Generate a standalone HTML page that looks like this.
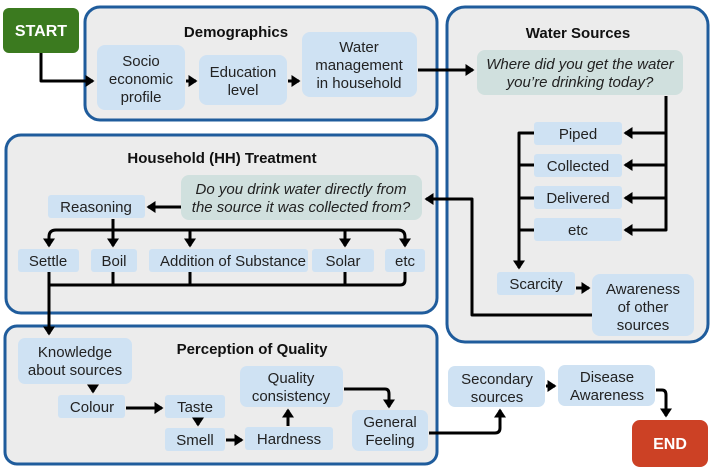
<!DOCTYPE html>
<html><head><meta charset="utf-8"><style>
html,body{margin:0;padding:0;background:#fff;}
svg{display:block;font-family:"Liberation Sans",Arial,sans-serif;}
.p{fill:#ececec;stroke:#1f5c9c;stroke-width:3;}
.b{fill:#cfe2f3;}
.q{fill:#d0e0de;}
.t{font-size:15px;fill:#222;text-anchor:middle;}
.h{font-size:15px;font-weight:bold;fill:#111;text-anchor:middle;}
.i{font-style:italic;}
.l{fill:none;stroke:#000;stroke-width:3;stroke-linejoin:round;}
</style></head><body>
<svg width="713" height="469" viewBox="0 0 713 469">
<defs><marker id="a" markerWidth="4" markerHeight="4" refX="2.5" refY="2" orient="auto" markerUnits="strokeWidth"><path d="M0,0 L3,2 L0,4 z" fill="#000"/></marker></defs>
<rect class="p" x="85" y="7" width="352" height="113" rx="15"/>
<rect class="p" x="447" y="7" width="261" height="335" rx="18"/>
<rect class="p" x="6" y="135" width="431" height="178" rx="15"/>
<rect class="p" x="5" y="326" width="432" height="138" rx="12"/>
<rect x="3" y="8" width="76" height="45" rx="6" fill="#3b7a1f"/>
<text x="41" y="36" class="h" style="fill:#fff;font-size:16px">START</text>
<text x="236" y="37" class="h">Demographics</text>
<rect class="b" x="97" y="45" width="88" height="65" rx="8"/>
<text class="t" x="141" y="66">Socio</text><text class="t" x="141" y="84">economic</text><text class="t" x="141" y="102">profile</text>
<rect class="b" x="199" y="55" width="88" height="50" rx="8"/>
<text class="t" x="243" y="77">Education</text><text class="t" x="243" y="95">level</text>
<rect class="b" x="302" y="32" width="115" height="65" rx="8"/>
<text class="t" x="359" y="52">Water</text><text class="t" x="359" y="70">management</text><text class="t" x="359" y="88">in household</text>
<path class="l" d="M41,53 V81 H93" marker-end="url(#a)"/>
<path class="l" d="M186,81 H196" marker-end="url(#a)"/>
<path class="l" d="M288,81 H299" marker-end="url(#a)"/>
<path class="l" d="M418,70 H473" marker-end="url(#a)"/>
<text x="578" y="38" class="h">Water Sources</text>
<rect class="q" x="477" y="50" width="206" height="45" rx="8"/>
<text class="t i" x="580" y="69">Where did you get the water</text><text class="t i" x="580" y="87">you’re drinking today?</text>
<rect class="b" x="534" y="122" width="88" height="23" rx="3"/><text class="t" x="578" y="139">Piped</text>
<rect class="b" x="534" y="154" width="88" height="23" rx="3"/><text class="t" x="578" y="171">Collected</text>
<rect class="b" x="534" y="186" width="88" height="23" rx="3"/><text class="t" x="578" y="203">Delivered</text>
<rect class="b" x="534" y="218" width="88" height="23" rx="3"/><text class="t" x="578" y="235">etc</text>
<path class="l" d="M666,96 V230 H625"  marker-end="url(#a)"/>
<path class="l" d="M666,133 H625" marker-end="url(#a)"/>
<path class="l" d="M666,165 H625" marker-end="url(#a)"/>
<path class="l" d="M666,198 H625" marker-end="url(#a)"/>
<path class="l" d="M534,133 H519 V268" marker-end="url(#a)"/>
<path class="l" d="M534,165 H519 M534,198 H519 M534,230 H519"/>
<rect class="b" x="497" y="272" width="78" height="23" rx="3"/><text class="t" x="536" y="289">Scarcity</text>
<rect class="b" x="592" y="274" width="102" height="62" rx="8"/>
<text class="t" x="643" y="294">Awareness</text><text class="t" x="643" y="312">of other</text><text class="t" x="643" y="330">sources</text>
<path class="l" d="M576,288 H589" marker-end="url(#a)"/>
<path class="l" d="M592,315 H472 V199 H426" marker-end="url(#a)"/>
<text x="222" y="163" class="h">Household (HH) Treatment</text>
<rect class="q" x="181" y="175" width="241" height="45" rx="8"/>
<text class="t i" x="301" y="194">Do you drink water directly from</text><text class="t i" x="301" y="212">the source it was collected from?</text>
<rect class="b" x="48" y="195" width="97" height="23" rx="3"/><text class="t" x="96" y="212">Reasoning</text>
<path class="l" d="M181,207 H148" marker-end="url(#a)"/>
<path class="l" d="M113,219 V246" marker-end="url(#a)"/>
<path class="l" d="M49,246 V237 Q49,230 56,230 H398 Q405,230 405,237 V246" marker-end="url(#a)"/>
<path class="l" d="M49,237 V246" marker-end="url(#a)"/>
<path class="l" d="M190,230 V246" marker-end="url(#a)"/>
<path class="l" d="M345,230 V246" marker-end="url(#a)"/>
<rect class="b" x="18" y="249" width="61" height="23" rx="3"/><text class="t" x="48" y="266">Settle</text>
<rect class="b" x="91" y="249" width="46" height="23" rx="3"/><text class="t" x="114" y="266">Boil</text>
<rect class="b" x="149" y="249" width="159" height="23" rx="3"/><text class="t" x="233" y="266">Addition of Substance</text>
<rect class="b" x="312" y="249" width="62" height="23" rx="3"/><text class="t" x="343" y="266">Solar</text>
<rect class="b" x="385" y="249" width="40" height="23" rx="3"/><text class="t" x="405" y="266">etc</text>
<path class="l" d="M113,272 V285 M190,272 V285 M345,272 V285 M405,272 V280 Q405,285 400,285 H49"/>
<path class="l" d="M49,272 V334" marker-end="url(#a)"/>
<text x="252" y="354" class="h">Perception of Quality</text>
<rect class="b" x="18" y="338" width="114" height="46" rx="7"/>
<text class="t" x="75" y="357">Knowledge</text><text class="t" x="75" y="375">about sources</text>
<rect class="b" x="58" y="395" width="67" height="23" rx="3"/><text class="t" x="92" y="412">Colour</text>
<rect class="b" x="165" y="395" width="60" height="23" rx="3"/><text class="t" x="195" y="412">Taste</text>
<rect class="b" x="165" y="428" width="60" height="23" rx="3"/><text class="t" x="195" y="445">Smell</text>
<rect class="b" x="245" y="427" width="88" height="23" rx="3"/><text class="t" x="289" y="444">Hardness</text>
<rect class="b" x="240" y="366" width="103" height="41" rx="7"/>
<text class="t" x="291" y="383">Quality</text><text class="t" x="291" y="401">consistency</text>
<rect class="b" x="352" y="410" width="76" height="41" rx="7"/>
<text class="t" x="390" y="427">General</text><text class="t" x="390" y="445">Feeling</text>
<path class="l" d="M93,385 V392" marker-end="url(#a)"/>
<path class="l" d="M126,408 H162" marker-end="url(#a)"/>
<path class="l" d="M198,419 V425" marker-end="url(#a)"/>
<path class="l" d="M226,440 H242" marker-end="url(#a)"/>
<path class="l" d="M288,426 V410" marker-end="url(#a)"/>
<path class="l" d="M344,389 H385 Q389,389 389,394 V407" marker-end="url(#a)"/>
<path class="l" d="M429,433 H495 Q500,433 500,428 V410" marker-end="url(#a)"/>
<rect class="b" x="448" y="366" width="97" height="41" rx="7"/>
<text class="t" x="497" y="384">Secondary</text><text class="t" x="497" y="402">sources</text>
<rect class="b" x="558" y="365" width="97" height="41" rx="7"/>
<text class="t" x="607" y="382">Disease</text><text class="t" x="607" y="400">Awareness</text>
<path class="l" d="M546,386 H555" marker-end="url(#a)"/>
<path class="l" d="M656,390 H662 Q666,390 666,395 V416" marker-end="url(#a)"/>
<rect x="632" y="420" width="76" height="47" rx="8" fill="#cc4125"/>
<text x="670" y="449" class="h" style="fill:#fff;font-size:16px">END</text>
</svg>
</body></html>
